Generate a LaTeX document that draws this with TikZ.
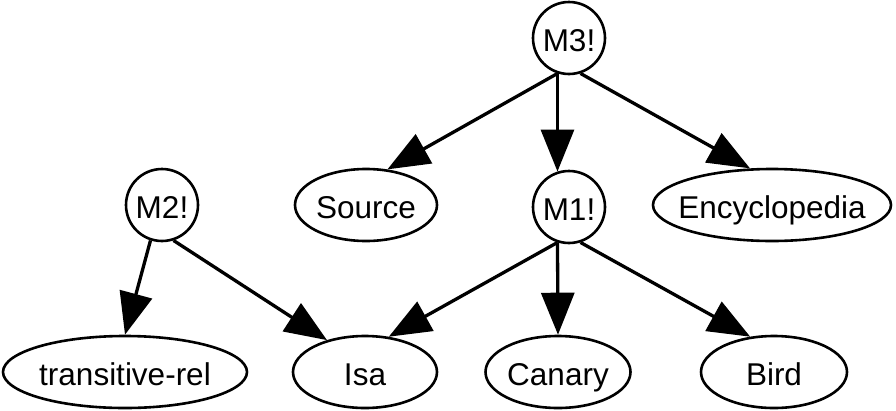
\documentclass[tikz,border=0pt]{standalone}
\usepackage{fontspec}
\setmainfont{Liberation Sans}
\usetikzlibrary{arrows.meta,shapes.geometric}
\begin{document}
\begin{tikzpicture}[x=1pt,y=-1pt,
  base/.style={draw, line width=2.6pt, inner sep=0pt,
    font=\fontsize{31.5}{36}\selectfont, text height=27pt, text depth=0pt},
  prop/.style={base, circle, minimum size=72pt},
  term/.style={base, ellipse, minimum height=72pt, minimum width=#1},
  arc/.style={line width=3.3pt, -{Triangle[length=42pt 0 0,width=33pt 0]}}]
\useasboundingbox (0,0) rectangle (896,410);

% proposition nodes
\node[prop] (M3) at (569,38)  {M3!};
\node[prop] (M1) at (569,207) {M1!};
\node[prop] (M2) at (162,205) {M2!};

% term nodes
\node[term=142pt] (Source)       at (366,205) {\makebox[0pt]{Source}};
\node[term=238pt] (Encyclopedia) at (772,205) {\makebox[0pt]{Encyclopedia}};
\node[term=244pt] (trans)        at (125,372) {\makebox[0pt]{transitive-rel}};
\node[term=144pt] (Isa)          at (365,372) {\makebox[0pt]{Isa}};
\node[term=145pt] (Canary)       at (558,372) {\makebox[0pt]{Canary}};
\node[term=146pt] (Bird)         at (774,372) {\makebox[0pt]{Bird}};

% arcs
\draw[arc] (M3.252) -- (Source.59);
\draw[arc] (M3.252) -- (M1.108);
\draw[arc] (M3.288) -- (Encyclopedia.121);
\draw[arc] (M1.252) -- (Isa.56);
\draw[arc] (M1.252) -- (Canary.90);
\draw[arc] (M1.288) -- (Bird.124);
\draw[arc] (M2.252) -- (trans.90);
\draw[arc] (M2.288) -- (Isa.140);
\end{tikzpicture}
\end{document}
